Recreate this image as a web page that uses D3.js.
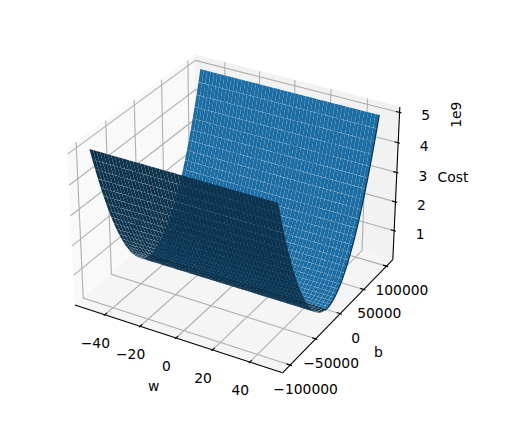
<!DOCTYPE html>
<html><head><meta charset="utf-8">
<script src="https://cdn.jsdelivr.net/npm/d3@7"></script>
<style>html,body{margin:0;padding:0;background:#fff}svg{display:block}text{font-family:"DejaVu Sans";font-size:13.89px;fill:#000}</style>
</head><body><svg id="c" width="509" height="429"></svg>
<script>
const wTicks=[-40,-20,0,20,40];
const bTicks=[-100000,-50000,0,50000,100000];
const zTicks=[1e9,2e9,3e9,4e9,5e9];
const wGrid=[-50,-48,-46,-44,-42,-40,-38,-36,-34,-32,-30,-28,-26,-24,-22,-20,-18,-16,-14,-12,-10,-8,-6,-4,-2,0,2,4,6,8,10,12,14,16,18,20,22,24,26,28,30,32,34,36,38,40,42,44,46,48,50];
const bGrid=[-100000,-96000,-92000,-88000,-84000,-80000,-76000,-72000,-68000,-64000,-60000,-56000,-52000,-48000,-44000,-40000,-36000,-32000,-28000,-24000,-20000,-16000,-12000,-8000,-4000,0,4000,8000,12000,16000,20000,24000,28000,32000,36000,40000,44000,48000,52000,56000,60000,64000,68000,72000,76000,80000,84000,88000,92000,96000,100000];
const costByB=[5.08,4.685,4.306,3.943,3.596,3.264,2.949,2.65,2.367,2.1,1.848,1.613,1.394,1.191,1.004,0.832,0.677,0.538,0.415,0.308,0.216,0.141,0.082,0.039,0.012,0,0.008,0.032,0.072,0.128,0.2,0.288,0.392,0.512,0.648,0.8,0.968,1.152,1.352,1.568,1.8,2.048,2.312,2.592,2.888,3.2,3.528,3.872,4.232,4.608,5.0];
const wDomain=[-57.3,57.3], bDomain=[-114400,114400], zDomain=[-0.02e9,5.18e9];
const baseColor=[32,123,186];

const nx=d3.scaleLinear().domain(wDomain).range([0,1]);
const ny=d3.scaleLinear().domain(bDomain).range([0,1]);
const nz=d3.scaleLinear().domain(zDomain).range([0,1]);
const BA=[1.1905,1.1905,0.8929], DIST=10;
const el=30*Math.PI/180, az=-60*Math.PI/180;
const W=[Math.cos(el)*Math.cos(az),Math.cos(el)*Math.sin(az),Math.sin(el)];
const U=[-Math.sin(az),Math.cos(az),0];
const V=[W[1]*U[2]-W[2]*U[1],W[2]*U[0]-W[0]*U[2],W[0]*U[1]-W[1]*U[0]];
const dot=(a,b)=>a[0]*b[0]+a[1]*b[1]+a[2]*b[2];
const sx=d3.scaleLinear().domain([0,0.1]).range([236.8,236.8+199.8]);
const sy=d3.scaleLinear().domain([0,0.1]).range([206.3,206.3-199.8]);
function proj(p){
  const d=[(p[0]-.5)*BA[0],(p[1]-.5)*BA[1],(p[2]-.5)*BA[2]];
  const depth=DIST-dot(W,d);
  return [sx(dot(U,d)/depth),sy(dot(V,d)/depth),depth];
}
const svg=d3.select("#c");
const line=d3.line();
const P=pts=>line(pts.map(proj));
const panes=[
 {fill:"#f9f9f9",pts:[[0,0,0],[0,1,0],[0,1,1],[0,0,1]]},
 {fill:"#f2f2f2",pts:[[0,1,0],[1,1,0],[1,1,1],[0,1,1]]},
 {fill:"#f5f5f5",pts:[[0,0,0],[1,0,0],[1,1,0],[0,1,0]]}];
svg.append("g").selectAll("path").data(panes).join("path")
  .attr("d",d=>P(d.pts)+"Z").attr("fill",d=>d.fill).attr("stroke",d=>d.fill).attr("stroke-width",1);
const gridLines=[
 ...wTicks.map(t=>[[nx(t),0,0],[nx(t),1,0],[nx(t),1,1]]),
 ...bTicks.map(t=>[[0,ny(t),1],[0,ny(t),0],[1,ny(t),0]]),
 ...zTicks.map(t=>[[0,0,nz(t)],[0,1,nz(t)],[1,1,nz(t)]])];
svg.append("g").selectAll("path").data(gridLines).join("path")
  .attr("d",P).attr("fill","none").attr("stroke","#b0b0b0").attr("stroke-width",1.1);
const axisLines=[[[0,0,0],[1,0,0]],[[1,0,0],[1,1,0]],[[1,1,0],[1,1,1]]];
const tickIn=0.0167,tickOut=0.0083;
const tickLines=[
 ...wTicks.map(t=>[[nx(t),tickIn,0],[nx(t),-tickOut,0]]),
 ...bTicks.map(t=>[[1-tickIn,ny(t),0],[1+tickOut,ny(t),0]]),
 ...zTicks.map(t=>[[1-tickIn,1,nz(t)],[1+tickOut,1,nz(t)]])];
svg.append("g").selectAll("path").data(axisLines.concat(tickLines)).join("path")
  .attr("d",P).attr("fill","none").attr("stroke","#000").attr("stroke-width",1.1);
const fmt=v=>String(v).replace("-","\u2212");
const labels=[
 ...wTicks.map(t=>{const q=proj([nx(t),0,0]);return{x:q[0]-9.5,y:q[1]+28,s:fmt(t)}}),
 ...bTicks.map(t=>{const q=proj([1,ny(t),0]);return{x:q[0]+15.5,y:q[1]+24,s:fmt(t)}}),
 ...zTicks.map(t=>{const q=proj([1,1,nz(t)]);return{x:q[0]+26,y:q[1]+3,s:fmt(t/1e9)}}),
 {x:153.7,y:386.3,s:"w"},{x:378.3,y:352.3,s:"b"},{x:453,y:177,s:"Cost"}];
svg.append("g").selectAll("text").data(labels).join("text")
  .attr("x",d=>d.x).attr("y",d=>d.y).attr("dy","0.36em").attr("text-anchor","middle").text(d=>d.s);
svg.append("text").attr("transform","translate(456.3,114.7) rotate(-90)").attr("dy","0.36em").attr("text-anchor","middle").text("1e9");
const LIGHT=[-0.6667,-0.6667,0.3333];
const seam=0.09; // pixel inset of each facet, leaves see-through seams
const quads=[];
for(let i=0;i<wGrid.length-1;i++)for(let j=0;j<bGrid.length-1;j++){
  const c=[[i,j],[i+1,j],[i+1,j+1],[i,j+1]].map(([a,b])=>[wGrid[a],bGrid[b],costByB[b]*1e9]);
  const e1=[c[2][0]-c[0][0],c[2][1]-c[0][1],c[2][2]-c[0][2]];
  const e2=[c[3][0]-c[1][0],c[3][1]-c[1][1],c[3][2]-c[1][2]];
  const n=[e1[1]*e2[2]-e1[2]*e2[1],e1[2]*e2[0]-e1[0]*e2[2],e1[0]*e2[1]-e1[1]*e2[0]];
  const len=Math.hypot(...n)||1;
  const k=0.3+0.7*(dot(n,LIGHT)/len+1)/2;
  const pts=c.map(q=>proj([nx(q[0]),ny(q[1]),nz(q[2])]));
  const cx=d3.mean(pts,p=>p[0]),cy=d3.mean(pts,p=>p[1]);
  const inset=pts.map(p=>{const dx=p[0]-cx,dy=p[1]-cy,l=Math.hypot(dx,dy)||1,f=Math.max(0,1-seam/l);return [cx+dx*f,cy+dy*f];});
  quads.push({d:line(inset),depth:d3.mean(pts,p=>p[2]),fill:d3.rgb(baseColor[0]*k,baseColor[1]*k,baseColor[2]*k).formatRgb()});
}
quads.sort((a,b)=>b.depth-a.depth);
svg.append("g").selectAll("path").data(quads).join("path")
  .attr("d",d=>d.d+"Z").attr("fill",d=>d.fill);
const rimIdx=d3.range(24,bGrid.length);
svg.append("path")
  .attr("d",line(rimIdx.map(j=>proj([nx(wGrid[wGrid.length-1]),ny(bGrid[j]),nz(costByB[j]*1e9)]))))
  .attr("fill","none").attr("stroke","#0d324b").attr("stroke-width",1.2);
</script></body></html>
